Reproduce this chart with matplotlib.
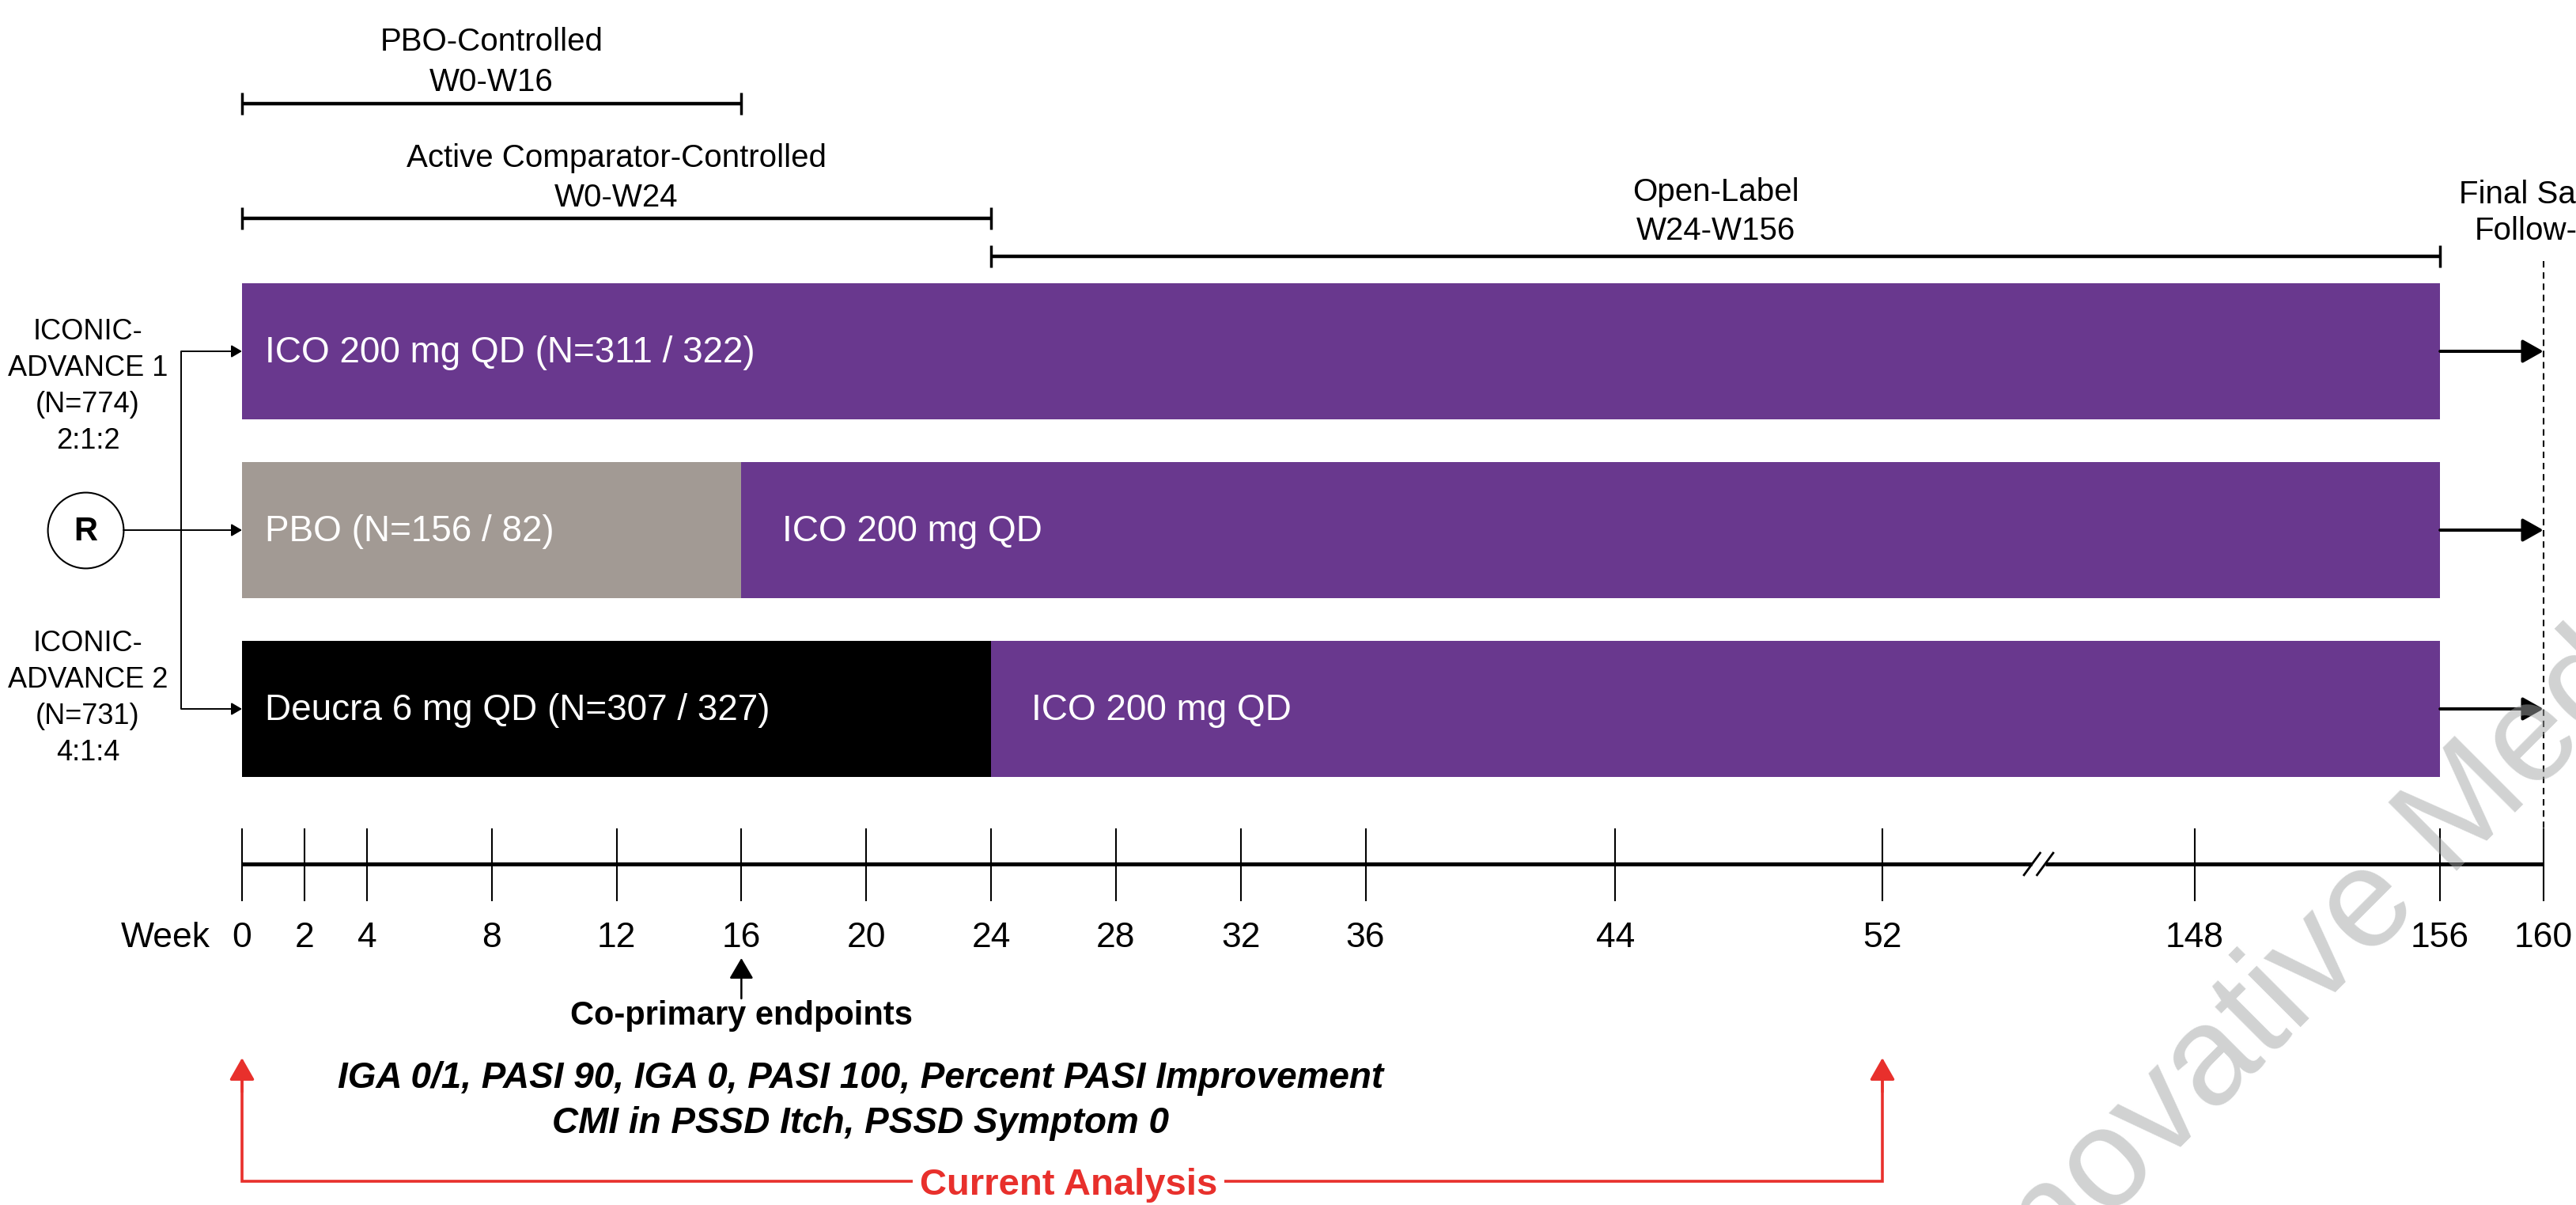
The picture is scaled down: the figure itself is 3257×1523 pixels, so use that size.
import numpy as np
import matplotlib
matplotlib.use("Agg")
import matplotlib.pyplot as plt

plt.rcParams['font.family'] = ['Liberation Sans', 'DejaVu Sans']

# ---------------- data ----------------
week_ticks = [0, 2, 4, 8, 12, 16, 20, 24, 28, 32, 36, 44, 52, 148, 156, 160]

seg_arm = [0, 1, 1, 2, 2]
seg_start = [0, 0, 16, 0, 24]
seg_end = [156, 16, 156, 24, 156]
seg_drug = ['ICO', 'PBO', 'ICO', 'Deucra', 'ICO']
seg_label = ['ICO 200 mg QD (N=311 / 322)', 'PBO (N=156 / 82)', 'ICO 200 mg QD',
             'Deucra 6 mg QD (N=307 / 327)', 'ICO 200 mg QD']

phase_name = ['PBO-Controlled', 'Active Comparator-Controlled', 'Open-Label']
phase_range = ['W0-W16', 'W0-W24', 'W24-W156']
phase_start = [0, 0, 24]
phase_end = [16, 24, 156]

study_label = [['ICONIC-', 'ADVANCE 1', '(N=774)', '2:1:2'],
               ['ICONIC-', 'ADVANCE 2', '(N=731)', '4:1:4']]

primary_week = 16
analysis_weeks = [0, 52]
treat_end_week = 156
followup_week = 160
break_weeks = (52, 148)

endpoint_lines = ['IGA 0/1, PASI 90, IGA 0, PASI 100, Percent PASI Improvement',
                  'CMI in PSSD Itch, PSSD Symptom 0']

# ---------------- style ----------------
PURPLE = '#69388e'
GREY = '#a29a94'
RED = '#e8302c'
drug_color = {'ICO': PURPLE, 'PBO': GREY, 'Deucra': '#000000'}

# broken week axis: weeks -> plotting units
WK_ANCH = [-1000, 44, 52, 148, 156, 160, 1000]
U_ANCH = [-1000, 44.0, 52.56, 62.57, 70.43, 73.74, 913.74]


def fwd(w):
    return np.interp(w, WK_ANCH, U_ANCH)


def inv(u):
    return np.interp(u, U_ANCH, WK_ANCH)


W, H = 3257, 1523
X0, XSTEP = 306, 39.46      # pixel of week 0, pixels per unit
ROW0, ROWSTEP = 444, 226    # pixel of first arm, pixels between arms


def xpx(p):
    return float(inv((p - X0) / XSTEP))


def ypx(p):
    return (p - ROW0) / ROWSTEP


fig = plt.figure(figsize=(W / 100, H / 100), dpi=100)
ax = fig.add_axes([0, 0, 1, 1])
ax.set_xscale('function', functions=(fwd, inv))
ax.set_xlim(xpx(0), xpx(W))
ax.set_ylim(ypx(H), ypx(0))
ax.axis('off')

# ---- arms ----
ax.barh(seg_arm, np.subtract(seg_end, seg_start), left=seg_start, height=172 / ROWSTEP,
        color=[drug_color[d] for d in seg_drug], edgecolor='none', zorder=2)
for a, s, lab in zip(seg_arm, seg_start, seg_label):
    ax.annotate(lab, xy=(s, a), xytext=(21 if s == 0 else 37, -10), textcoords='offset points',
                color='white', fontsize=33, ha='left', va='baseline', zorder=3)

# arrows to final follow-up
for a in sorted(set(seg_arm)):
    ax.annotate('', xy=(followup_week, a), xytext=(treat_end_week, a),
                arrowprops=dict(arrowstyle='-|>,head_length=0.8,head_width=0.45', mutation_scale=20,
                                lw=2.9, color='black', shrinkA=0, shrinkB=0), zorder=3)

# dashed follow-up line
ax.vlines(followup_week, ypx(330), ypx(1047), colors='black', lw=1.5, linestyles=(0, (3.9, 2.9)))

# ---- phase brackets ----
bracket_px = [131, 276, 324]
name_px = [64, 211, 254]
range_px = [115, 261, 303]
for nm, rg, s, e, by, ny, ry in zip(phase_name, phase_range, phase_start, phase_end,
                                    bracket_px, name_px, range_px):
    ax.hlines(ypx(by), s, e, colors='black', lw=3.2)
    ax.vlines([s, e], ypx(by - 14), ypx(by + 14), colors='black', lw=2.5)
    xc = float(inv((fwd(s) + fwd(e)) / 2))
    ax.text(xc, ypx(ny), nm, fontsize=29, ha='center', va='baseline')
    ax.text(xc, ypx(ry), rg, fontsize=29, ha='center', va='baseline')

ax.text(followup_week, ypx(257), 'Final Safety', fontsize=29, ha='center', va='baseline')
ax.text(followup_week, ypx(303), 'Follow-up', fontsize=29, ha='center', va='baseline')

# ---- randomisation ----
r_x = xpx(108)
conn_x = xpx(229)
ax.plot(r_x, 1, 'o', ms=69, mfc='white', mec='black', mew=1.5, zorder=3)
ax.text(r_x, ypx(683), 'R', fontsize=30, fontweight='bold', ha='center', va='baseline', zorder=4)
ax.vlines(conn_x, 0, 2, colors='black', lw=1.4)
for a, x_from in [(0, conn_x), (1, xpx(156)), (2, conn_x)]:
    ax.annotate('', xy=(0, a), xytext=(x_from, a),
                arrowprops=dict(arrowstyle='-|>,head_length=0.8,head_width=0.47', mutation_scale=10,
                                lw=1.4, color='black', shrinkA=0, shrinkB=0))

first_line_px = [429, 823]
for lines, fy in zip(study_label, first_line_px):
    for k, ln in enumerate(lines):
        ax.text(xpx(111), ypx(fy + 46 * k), ln, fontsize=26, ha='center', va='baseline')

# ---- week axis ----
ub = (fwd(break_weeks[0]) + fwd(break_weeks[1])) / 2
gap = 8.25 / XSTEP
axis_y = ypx(1092)
ax.hlines(axis_y, week_ticks[0], float(inv(ub - gap)), colors='black', lw=3.6)
ax.hlines(axis_y, float(inv(ub + gap)), week_ticks[-1], colors='black', lw=3.6)
for sgn in (-1, 1):
    uc = ub + sgn * gap
    ax.plot([float(inv(uc - 11 / XSTEP)), float(inv(uc + 11 / XSTEP))],
            [ypx(1092 + 15), ypx(1092 - 15)], color='black', lw=2, solid_capstyle='butt')
ax.vlines(week_ticks, ypx(1047), ypx(1139), colors='black', lw=1.5)
for w in week_ticks:
    ax.text(w, ypx(1197), str(w), fontsize=32, ha='center', va='baseline')
ax.text(xpx(209), ypx(1197), 'Week', fontsize=32, ha='center', va='baseline')

# ---- co-primary endpoints ----
ax.annotate('', xy=(primary_week, ypx(1211)), xytext=(primary_week, ypx(1262)),
            arrowprops=dict(arrowstyle='-|>,head_length=0.8,head_width=0.47', mutation_scale=20,
                            lw=1.8, color='black', shrinkA=0, shrinkB=0))
ax.text(primary_week, ypx(1295), 'Co-primary endpoints', fontsize=30, fontweight='bold',
        ha='center', va='baseline')

for ln, by in zip(endpoint_lines, [1375, 1432]):
    ax.text(xpx(1088), ypx(by), ln, fontsize=33, fontweight='bold', fontstyle='italic',
            ha='center', va='baseline')

# ---- current analysis ----
red_y = ypx(1493)
ax.plot([analysis_weeks[0], analysis_weeks[0], analysis_weeks[1], analysis_weeks[1]],
        [ypx(1360), red_y, red_y, ypx(1360)], color=RED, lw=2.6, solid_joinstyle='miter')
for w in analysis_weeks:
    ax.annotate('', xy=(w, ypx(1337)), xytext=(w, ypx(1380)),
                arrowprops=dict(arrowstyle='-|>,head_length=0.86,head_width=0.49', mutation_scale=20,
                                lw=2.4, color=RED, shrinkA=0, shrinkB=0))
ax.text(xpx(1351), ypx(1510), 'Current Analysis', fontsize=34, fontweight='bold', color=RED,
        ha='center', va='baseline', zorder=5,
        bbox=dict(facecolor='white', edgecolor='none', pad=6.5))

# ---- watermark ----
fig.text(0.9248, 0.258, 'Innovative Medicine', rotation=45, rotation_mode='anchor',
         ha='center', va='center', fontsize=128, color=(0.64, 0.65, 0.65), alpha=0.5, zorder=10)

fig.savefig('out.png', dpi=100)
